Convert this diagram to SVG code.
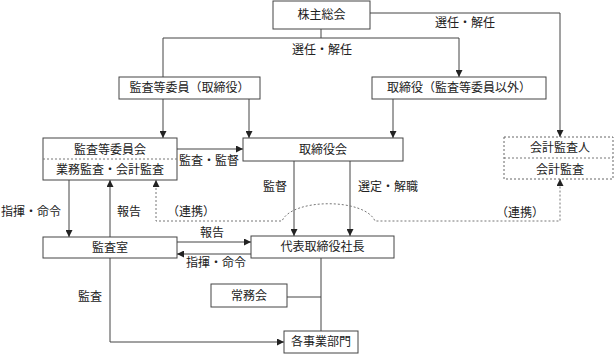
<svg xmlns="http://www.w3.org/2000/svg" width="616" height="354" viewBox="0 0 616 354">
<style>
text{font-family:"Noto Sans CJK JP","Noto Sans",sans-serif;font-size:12px;fill:#222;text-anchor:middle}
.box{fill:#fff;stroke:#444;stroke-width:1}
.dbox{fill:#fff;stroke:#666;stroke-width:1;stroke-dasharray:2,2}
.ln{fill:none;stroke:#444;stroke-width:1}
.dl{fill:none;stroke:#777;stroke-width:1;stroke-dasharray:2,2}
</style>
<defs>
<marker id="ah" viewBox="0 0 8 8" refX="8" refY="4" markerWidth="7" markerHeight="7" markerUnits="userSpaceOnUse" orient="auto-start-reverse">
<path d="M0,0 L8,4 L0,8 Z" fill="#222"/>
</marker>
</defs>
<rect width="616" height="354" fill="#fff"/>
<g id="connectors">
<path class="ln" d="M370,13 H560 V137" marker-end="url(#ah)"/>
<path class="ln" d="M321,29 V38"/>
<path class="ln" d="M163,77 V38 H459 V77" marker-end="url(#ah)"/>
<path class="ln" d="M163,99 V138" marker-end="url(#ah)"/>
<path class="ln" d="M249,99 V138" marker-end="url(#ah)"/>
<path class="ln" d="M393,99 V138" marker-end="url(#ah)"/>
<path class="ln" d="M177,149 H243" marker-end="url(#ah)"/>
<path class="ln" d="M294,161 V236" marker-end="url(#ah)"/>
<path class="ln" d="M350,161 V236" marker-end="url(#ah)"/>
<path class="ln" d="M69,180 V237" marker-end="url(#ah)"/>
<path class="ln" d="M110,237 V180" marker-end="url(#ah)"/>
<path class="ln" d="M177,242 H251" marker-end="url(#ah)"/>
<path class="ln" d="M251,254 H177" marker-end="url(#ah)"/>
<path class="ln" d="M321,258 V331"/>
<path class="ln" d="M287,297 H321"/>
<path class="ln" d="M110,258 V342 H284" marker-end="url(#ah)"/>
<path class="dl" d="M156,180 V221 H282 C292,198 365,198 375,221 H560 V179" marker-start="url(#ah)" marker-end="url(#ah)"/>
<text x="465" y="27">選任・解任</text>
<text x="322" y="54">選任・解任</text>
<text x="209" y="165">監査・監督</text>
<text x="275" y="191">監督</text>
<text x="388" y="191">選定・解職</text>
<text x="31" y="216">指揮・命令</text>
<text x="129" y="216">報告</text>
<text x="191" y="216">（連携）</text>
<text x="520" y="217">（連携）</text>
<text x="212" y="237">報告</text>
<text x="216" y="267">指揮・命令</text>
<text x="90" y="301">監査</text>
</g>
<g id="n-kabunushi"><rect class="box" x="273" y="1" width="97" height="28"/><text x="321.5" y="19">株主総会</text></g>
<g id="n-kansa-torishimari"><rect class="box" x="119" y="77" width="141" height="22"/><text x="189.5" y="92">監査等委員（取締役）</text></g>
<g id="n-torishimari-igai"><rect class="box" x="372" y="77" width="174" height="22"/><text x="459" y="92">取締役（監査等委員以外）</text></g>
<g id="n-kansa-iinkai"><rect class="box" x="43" y="138" width="134" height="42"/><line class="dl" x1="43" y1="159" x2="177" y2="159"/><text x="110" y="154">監査等委員会</text><text x="110" y="174">業務監査・会計監査</text></g>
<g id="n-torishimariyakukai"><rect class="box" x="243" y="138" width="160" height="23"/><text x="323" y="154">取締役会</text></g>
<g id="n-kaikei"><rect class="dbox" x="504" y="137" width="109" height="42"/><line class="dl" x1="504" y1="158" x2="613" y2="158"/><text x="560" y="152">会計監査人</text><text x="560" y="174">会計監査</text></g>
<g id="n-kansashitsu"><rect class="box" x="43" y="237" width="134" height="21"/><text x="110" y="252">監査室</text></g>
<g id="n-daihyo"><rect class="box" x="251" y="236" width="143" height="22"/><text x="322.5" y="251">代表取締役社長</text></g>
<g id="n-jomukai"><rect class="box" x="211" y="284" width="76" height="23"/><text x="249" y="300">常務会</text></g>
<g id="n-jigyobumon"><rect class="box" x="284" y="331" width="74" height="22"/><text x="321" y="346">各事業部門</text></g>
</svg>
